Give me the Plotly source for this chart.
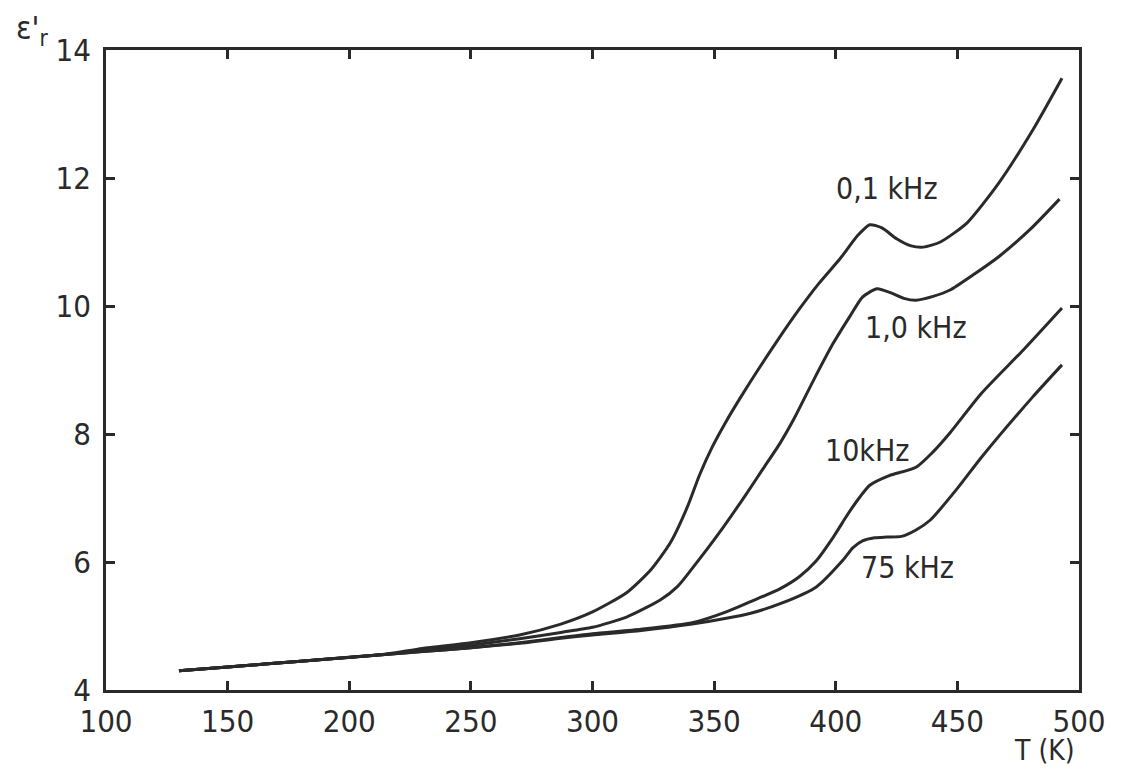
import plotly.graph_objects as go

# Temperature (K) and relative permittivity for each frequency
T_01 = [130, 150, 180, 213, 230, 250, 270, 287, 300, 314, 324, 332, 339, 344, 349, 355, 361, 368, 376, 385, 393, 402, 409, 414, 419, 425, 431, 436, 443, 454, 467, 481, 493]
E_01 = [4.30, 4.36, 4.45, 4.55, 4.65, 4.74, 4.86, 5.03, 5.22, 5.52, 5.88, 6.30, 6.86, 7.36, 7.78, 8.20, 8.58, 9.00, 9.46, 9.95, 10.35, 10.75, 11.10, 11.27, 11.22, 11.05, 10.94, 10.92, 11.00, 11.30, 11.92, 12.75, 13.56]

T_1 = [130, 150, 180, 213, 230, 250, 270, 287, 300, 314, 328, 335, 341, 352, 363, 370, 377, 383, 391, 399, 406, 411, 417, 423, 428, 433, 440, 447, 457, 467, 480, 492]
E_1 = [4.30, 4.36, 4.45, 4.55, 4.62, 4.70, 4.80, 4.90, 4.98, 5.14, 5.41, 5.62, 5.90, 6.45, 7.05, 7.45, 7.85, 8.25, 8.85, 9.42, 9.85, 10.14, 10.27, 10.20, 10.12, 10.09, 10.15, 10.25, 10.50, 10.77, 11.20, 11.67]

T_10 = [130, 150, 180, 213, 230, 250, 270, 287, 300, 320, 341, 355, 365, 377, 385, 392, 399, 405, 410, 414, 422, 433, 440, 447, 460, 477, 493]
E_10 = [4.30, 4.36, 4.45, 4.55, 4.60, 4.66, 4.74, 4.82, 4.88, 4.95, 5.05, 5.22, 5.38, 5.58, 5.77, 6.02, 6.39, 6.75, 7.02, 7.20, 7.35, 7.48, 7.72, 8.02, 8.64, 9.31, 9.97]

T_75 = [130, 150, 180, 213, 230, 250, 270, 287, 300, 320, 341, 355, 365, 378, 392, 403, 407, 411, 416, 421, 427, 433, 439, 450, 460, 481, 493]
E_75 = [4.30, 4.36, 4.45, 4.55, 4.60, 4.66, 4.73, 4.81, 4.86, 4.93, 5.03, 5.12, 5.20, 5.36, 5.61, 6.03, 6.22, 6.33, 6.38, 6.39, 6.40, 6.50, 6.66, 7.15, 7.64, 8.58, 9.08]

labels = ["0,1 kHz", "1,0 kHz", "10kHz", "75 kHz"]
label_T = [421, 433, 413, 429.5]
label_E = [11.84, 9.66, 7.75, 5.91]

x_ticks = [100, 150, 200, 250, 300, 350, 400, 450, 500]
y_ticks = [4, 6, 8, 10, 12, 14]

FONT = "Liberation Sans Narrow, DejaVu Sans Condensed, Arial Narrow, sans-serif"
INK = "#2a2a2a"

fig = go.Figure()
for tx, ey in [(T_01, E_01), (T_1, E_1), (T_10, E_10), (T_75, E_75)]:
    fig.add_trace(go.Scatter(x=tx, y=ey, mode="lines",
                             line=dict(color=INK, width=3, shape="spline", smoothing=0.6),
                             showlegend=False, hoverinfo="skip"))

for txt, lx, ly in zip(labels, label_T, label_E):
    fig.add_annotation(x=lx, y=ly, text=txt, showarrow=False,
                       font=dict(family=FONT, size=30, color=INK))

fig.add_annotation(xref="paper", yref="paper", x=-0.076, y=1.031, xanchor="center", yanchor="middle",
                   text="ε'<sub>r</sub>", showarrow=False,
                   font=dict(family=FONT, size=32, color=INK))
fig.add_annotation(xref="paper", yref="paper", x=0.965, y=-0.094, xanchor="center", yanchor="middle",
                   text="T (K)", showarrow=False,
                   font=dict(family=FONT, size=28, color=INK))

axis_common = dict(showline=True, linecolor=INK, linewidth=2.5, mirror="ticks",
                   ticks="inside", ticklen=9, tickwidth=2.5, tickcolor=INK,
                   showgrid=False, zeroline=False, automargin=False,
                   tickfont=dict(family=FONT, size=31, color=INK))

fig.update_xaxes(range=[100, 500], tickvals=x_ticks, ticklabelstandoff=2, **axis_common)
fig.update_yaxes(range=[4, 14], tickvals=y_ticks, ticklabelstandoff=6, **axis_common)

# the page adds an 8 px body margin, so margins are reduced accordingly
fig.update_layout(width=1122, height=773,
                  margin=dict(l=98, r=51, t=42, b=91),
                  plot_bgcolor="white", paper_bgcolor="white")

fig.write_html("out.html")
